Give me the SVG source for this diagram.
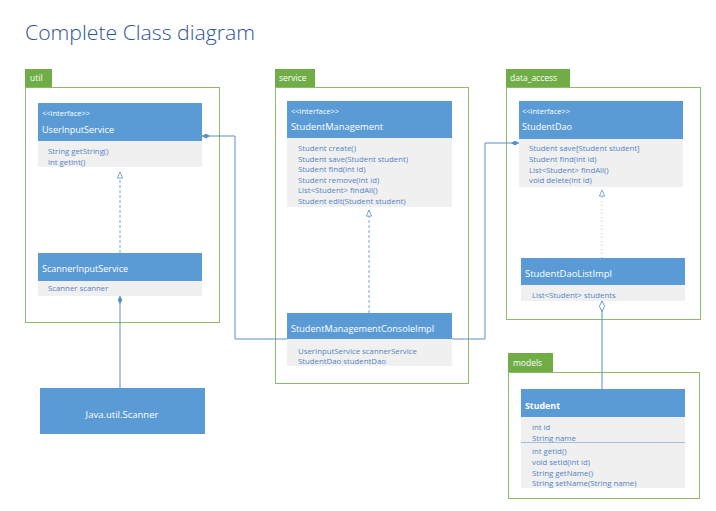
<svg xmlns="http://www.w3.org/2000/svg" width="716" height="511" viewBox="0 0 716 511">
<defs>
<style>
.title{font-family:"Open Sans","Noto Sans",sans-serif;font-size:21px;fill:#2f5496;font-weight:300}
.tab{fill:#70ad47}
.tabt{font-family:"Open Sans","Liberation Sans",sans-serif;font-size:8.5px;fill:#ffffff}
.frame{fill:none;stroke:#8dbb6b;stroke-width:1}
.hdr{fill:#5b9bd5}
.body{fill:#f0f0f0}
.st{font-family:"Open Sans","Liberation Sans",sans-serif;font-size:7.5px;fill:#ffffff}
.cn{font-family:"Open Sans","Liberation Sans",sans-serif;font-size:9.5px;fill:#ffffff}
.bt{font-family:"Open Sans","Liberation Sans",sans-serif;font-size:7.8px;fill:#5283c6}
.conn{fill:none;stroke:#5b8fc7;stroke-width:1}
.dash{fill:none;stroke:#5b8fc7;stroke-width:0.8;stroke-dasharray:3 2}
.dot{fill:none;stroke:#7fa7d4;stroke-width:0.8;stroke-dasharray:1 3}
</style>
<marker id="fdia" viewBox="0 0 10 6" refX="10" refY="3" markerWidth="8" markerHeight="5" markerUnits="userSpaceOnUse" orient="auto">
<path d="M0,3 L5,0 L10,3 L5,6 z" fill="#5b8fc7"/>
</marker>
<marker id="hdia" viewBox="0 0 14 8" refX="13" refY="4" markerWidth="13" markerHeight="7" markerUnits="userSpaceOnUse" orient="auto">
<path d="M1,4 L7,1 L13,4 L7,7 z" fill="#ffffff" stroke="#5b8fc7" stroke-width="1"/>
</marker>
<marker id="tri" viewBox="0 0 9 8" refX="8" refY="4" markerWidth="8" markerHeight="7" markerUnits="userSpaceOnUse" orient="auto">
<path d="M1,1 L8,4 L1,7 z" fill="#ffffff" stroke="#5b8fc7" stroke-width="0.9"/>
</marker>
</defs>
<rect width="716" height="511" fill="#ffffff"/>
<text class="title" x="25" y="40" textLength="230" lengthAdjust="spacingAndGlyphs">Complete Class diagram</text>

<g id="pkg-util">
<rect class="tab" x="25" y="69" width="27" height="18"/>
<text class="tabt" x="30" y="81">util</text>
<rect class="frame" x="25.5" y="87.5" width="194" height="235"/>
</g>
<g id="pkg-service">
<rect class="tab" x="275" y="69" width="40" height="18"/>
<text class="tabt" x="279" y="81">service</text>
<rect class="frame" x="275.5" y="87.5" width="193" height="296"/>
</g>
<g id="pkg-data_access">
<rect class="tab" x="506" y="69" width="64" height="18"/>
<text class="tabt" x="510" y="81">data_access</text>
<rect class="frame" x="506.5" y="87.5" width="194" height="232"/>
</g>
<g id="pkg-models">
<rect class="tab" x="508" y="353" width="45" height="19"/>
<text class="tabt" x="513" y="366">models</text>
<rect class="frame" x="508.5" y="372.5" width="191" height="126"/>
</g>

<g id="connectors">
<path class="dash" d="M120,253 V172" marker-end="url(#tri)"/>
<path class="dash" d="M369,313 V210" marker-end="url(#tri)"/>
<path class="dot" d="M602,258 V190" marker-end="url(#tri)"/>
<path class="conn" d="M120,388 V296" marker-end="url(#fdia)"/>
<path class="conn" d="M287,339 H235 V136 H202" marker-end="url(#fdia)"/>
<path class="conn" d="M452,339 H485 V143 H519" marker-end="url(#fdia)"/>
<path class="conn" d="M602,389 V301" marker-end="url(#hdia)"/>
</g>

<g id="UserInputService">
<rect class="body" x="38" y="141" width="164" height="26"/>
<rect class="hdr" x="38" y="103" width="164" height="38"/>
<text class="st" x="42" y="116">&lt;&lt;interface&gt;&gt;</text>
<text class="cn" x="42" y="133" textLength="72" lengthAdjust="spacingAndGlyphs">UserInputService</text>
<text class="bt" x="48" y="154">String getString()</text>
<text class="bt" x="48" y="165">int getInt()</text>
</g>
<g id="ScannerInputService">
<rect class="body" x="38" y="281" width="164" height="15"/>
<rect class="hdr" x="38" y="253" width="164" height="28"/>
<text class="cn" x="42" y="272" textLength="86" lengthAdjust="spacingAndGlyphs">ScannerInputService</text>
<text class="bt" x="48" y="291">Scanner scanner</text>
</g>
<g id="JavaUtilScanner">
<rect class="hdr" x="40" y="388" width="165" height="46"/>
<text class="cn" x="122" y="418" text-anchor="middle">Java.util.Scanner</text>
</g>

<g id="StudentManagement">
<rect class="body" x="287" y="138" width="165" height="69"/>
<rect class="hdr" x="287" y="101" width="165" height="37"/>
<text class="st" x="291" y="114">&lt;&lt;interface&gt;&gt;</text>
<text class="cn" x="291" y="130" textLength="92" lengthAdjust="spacingAndGlyphs">StudentManagement</text>
<text class="bt" x="298" y="151">Student create()</text>
<text class="bt" x="298" y="162">Student save(Student student)</text>
<text class="bt" x="298" y="172">Student find(int id)</text>
<text class="bt" x="298" y="183">Student remove(int id)</text>
<text class="bt" x="298" y="193">List&lt;Student&gt; findAll()</text>
<text class="bt" x="298" y="204">Student edit(Student student)</text>
</g>
<g id="StudentManagementConsoleImpl">
<rect class="body" x="287" y="339" width="165" height="27"/>
<rect class="hdr" x="287" y="313" width="165" height="26"/>
<text class="cn" x="291" y="332" textLength="143" lengthAdjust="spacingAndGlyphs">StudentManagementConsoleImpl</text>
<text class="bt" x="298" y="354">UserInputService scannerService</text>
<text class="bt" x="298" y="364">StudentDao studentDao</text>
</g>

<g id="StudentDao">
<rect class="body" x="519" y="139" width="164" height="48"/>
<rect class="hdr" x="519" y="101" width="164" height="38"/>
<text class="st" x="522" y="114">&lt;&lt;interface&gt;&gt;</text>
<text class="cn" x="522" y="130" textLength="50" lengthAdjust="spacingAndGlyphs">StudentDao</text>
<text class="bt" x="529" y="151">Student save[Student student]</text>
<text class="bt" x="529" y="162">Student find(int id)</text>
<text class="bt" x="529" y="173">List&lt;Student&gt; findAll()</text>
<text class="bt" x="529" y="183">void delete(int id)</text>
</g>
<g id="StudentDaoListImpl">
<rect class="body" x="521" y="285" width="164" height="16"/>
<rect class="hdr" x="521" y="258" width="164" height="27"/>
<text class="cn" x="525" y="277" textLength="87" lengthAdjust="spacingAndGlyphs">StudentDaoListImpl</text>
<text class="bt" x="532" y="298">List&lt;Student&gt; students</text>
</g>

<g id="Student">
<rect class="body" x="521" y="417" width="164" height="71"/>
<rect class="hdr" x="521" y="389" width="164" height="28"/>
<text class="cn" x="525" y="409" font-weight="bold" textLength="35" lengthAdjust="spacingAndGlyphs">Student</text>
<text class="bt" x="532" y="430">int id</text>
<text class="bt" x="532" y="441">String name</text>
<line x1="521" y1="442.5" x2="685" y2="442.5" stroke="#8fb0d8" stroke-width="0.8"/>
<text class="bt" x="532" y="454">int getId()</text>
<text class="bt" x="532" y="465">void setId(int id)</text>
<text class="bt" x="532" y="476">String getName()</text>
<text class="bt" x="532" y="486">String setName(String name)</text>
</g>
</svg>
